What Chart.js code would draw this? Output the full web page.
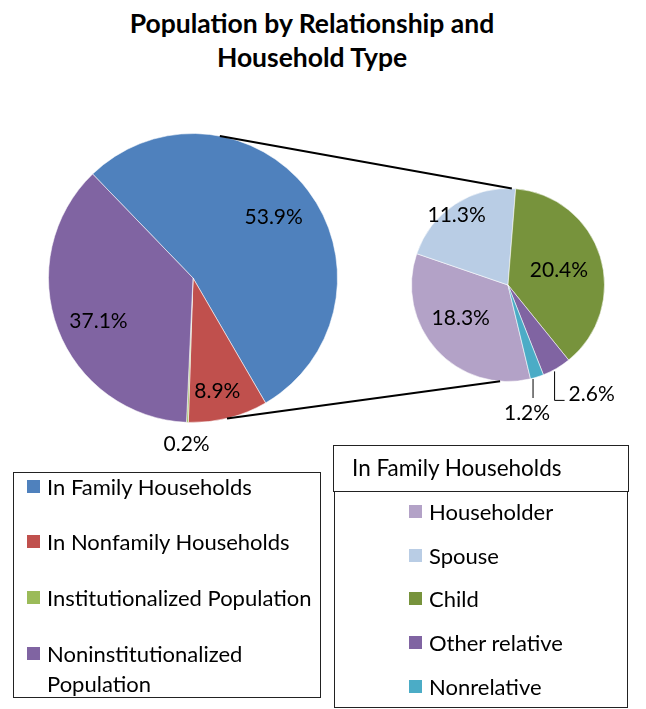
<!DOCTYPE html>
<html>
<head>
<meta charset="utf-8">
<script src="https://cdn.jsdelivr.net/npm/chart.js@4/dist/chart.umd.min.js"></script>
<style>
  body { margin: 0; background: #fff; font-family: Lato, "Open Sans", sans-serif; color: #000; }
  #wrap { position: relative; width: 646px; height: 709px; overflow: hidden; }
  #wrap canvas { position: absolute; left: 0; top: 0; }
  #title { position: absolute; left: 0; top: 6px; width: 624px; text-align: center;
           font-weight: bold; font-size: 26.5px; line-height: 34px; }
  .box { position: absolute; border: 1px solid #222; box-sizing: border-box; }
  .item { position: absolute; font-size: 22px; line-height: 28px; white-space: nowrap; }
  .item i { display: inline-block; width: 13px; height: 13px; margin-right: 7px; vertical-align: 2px; }
</style>
</head>
<body>
<div id="wrap">
  <div id="title">Population by Relationship and<br>Household Type</div>
  <canvas id="mainPie" width="646" height="709"></canvas>
  <canvas id="subPie" width="646" height="709"></canvas>
  <div class="box" id="legMain" style="left:13px;top:472px;width:308px;height:226px;"></div>
  <div class="box" style="left:333px;top:445px;width:296px;height:47px;border-width:1.5px;">
    <div style="position:absolute;left:18px;top:8px;font-size:22.5px;line-height:28px;">In Family Households</div>
  </div>
  <div class="box" id="legSub" style="left:334px;top:491px;width:294px;height:217px;"></div>
</div>
<script>
// main pie: total population
const mainLabels = ['In Family Households', 'In Nonfamily Households', 'Institutionalized Population', 'Noninstitutionalized Population'];
const mainValues = [53.9, 8.9, 0.2, 37.1];
const mainColors = ['#4F81BD', '#C0504D', '#9BBB59', '#8064A2'];

// second pie: breakdown of "In Family Households"
const subLabels = ['Householder', 'Spouse', 'Child', 'Other relative', 'Nonrelative'];
const subValues = [18.3, 11.3, 20.4, 2.6, 1.2];
const subColors = ['#B3A2C7', '#B9CDE5', '#77933C', '#8064A2', '#4BACC6'];

const FONT = '21px Lato, "Open Sans", sans-serif';

// percentage labels on slices (with leader lines for the small ones)
const sliceLabels = {
  id: 'sliceLabels',
  afterDatasetsDraw(chart, args, opts) {
    const ctx = chart.ctx;
    const meta = chart.getDatasetMeta(0);
    const vals = chart.data.datasets[0].data;
    ctx.save();
    ctx.font = FONT;
    ctx.fillStyle = '#000';
    ctx.strokeStyle = '#000';
    ctx.lineWidth = 1;
    meta.data.forEach((arc, i) => {
      const { x, y, startAngle, endAngle, outerRadius } = arc.getProps(['x', 'y', 'startAngle', 'endAngle', 'outerRadius'], true);
      const p = opts.place[i];
      const mid = (startAngle + endAngle) / 2 + (p.da || 0) * Math.PI / 180;
      const text = vals[i].toFixed(1) + '%';
      const ex = x + Math.cos(mid) * outerRadius;
      const ey = y + Math.sin(mid) * outerRadius;
      if (p.leader === 'elbow') {
        const lx = ex - 2, ly = ey + 32;
        ctx.beginPath();
        ctx.moveTo(lx, ey + 3); ctx.lineTo(lx, ly); ctx.lineTo(lx + 10, ly);
        ctx.stroke();
        ctx.textAlign = 'left'; ctx.textBaseline = 'middle';
        ctx.fillText(text, lx + 14, ly - 6);
      } else if (p.leader === 'vert') {
        const lx = ex - 4;
        ctx.beginPath();
        ctx.moveTo(lx, ey + 2); ctx.lineTo(lx, ey + 21);
        ctx.stroke();
        ctx.textAlign = 'center'; ctx.textBaseline = 'middle';
        ctx.fillText(text, lx - 6, ey + 36);
      } else {
        ctx.textAlign = 'center'; ctx.textBaseline = 'middle';
        ctx.fillText(text, x + Math.cos(mid) * outerRadius * p.r, y + Math.sin(mid) * outerRadius * p.r);
      }
    });
    ctx.restore();
  }
};

// the two lines joining the main pie with the breakdown pie
const connectors = {
  id: 'connectors',
  afterDraw(chart, args, opts) {
    const src = opts.from();
    if (!src) return;
    const a = src.getDatasetMeta(0).data[0];
    const b = chart.getDatasetMeta(0).data[0];
    const pt = (arc, deg) => {
      const r = deg * Math.PI / 180;
      return [arc.x + Math.sin(r) * arc.outerRadius, arc.y - Math.cos(r) * arc.outerRadius];
    };
    const ctx = chart.ctx;
    ctx.save();
    ctx.strokeStyle = '#000';
    ctx.lineWidth = 2;
    for (let k = 0; k < 2; k++) {
      const p1 = pt(a, opts.mainAngles[k]);
      const p2 = pt(b, opts.subAngles[k]);
      ctx.beginPath();
      ctx.moveTo(p1[0], p1[1]);
      ctx.lineTo(p2[0], p2[1]);
      ctx.stroke();
    }
    ctx.restore();
  }
};

const baseOpts = (pad) => ({
  responsive: false,
  animation: false,
  layout: { padding: pad },
  plugins: { legend: { display: false }, tooltip: { enabled: false } }
});

const mainOpts = baseOpts({ left: 48, right: 308, top: 133, bottom: 286 });
mainOpts.rotation = -44;
mainOpts.plugins.sliceLabels = { place: [{ r: 0.7 }, { r: 0.8, da: 2 }, { r: 1.15 }, { r: 0.72, da: -4 }] };

const mainChart = new Chart(document.getElementById('mainPie'), {
  type: 'pie',
  data: {
    labels: mainLabels,
    datasets: [{ data: mainValues, backgroundColor: mainColors, borderColor: 'rgba(255,255,255,0.55)', borderWidth: 1 }]
  },
  options: mainOpts,
  plugins: [sliceLabels]
});

const subOpts = baseOpts({ left: 411, right: 41, top: 188, bottom: 327 });
subOpts.rotation = 166.5;
subOpts.plugins.sliceLabels = { place: [{ r: 0.6, da: 7 }, { r: 0.9, da: -3 }, { r: 0.55, da: 1 }, { leader: 'elbow' }, { leader: 'vert' }] };
subOpts.plugins.connectors = { from: () => mainChart, mainAngles: [10.7, 166.4], subAngles: [2.3, 184.7] };

new Chart(document.getElementById('subPie'), {
  type: 'pie',
  data: {
    labels: subLabels,
    datasets: [{ data: subValues, backgroundColor: subColors, borderColor: 'rgba(255,255,255,0.55)', borderWidth: 1 }]
  },
  options: subOpts,
  plugins: [sliceLabels, connectors]
});

// legends
const legMain = document.getElementById('legMain');
const mainTops = [0, 55, 111, 166];
mainLabels.forEach((lab, i) => {
  const d = document.createElement('div');
  d.className = 'item';
  d.style.left = '13px';
  d.style.top = mainTops[i] + 'px';
  if (i === 3) {
    d.innerHTML = '<i style="background:' + mainColors[i] + '"></i>Noninstitutionalized<br><span style="margin-left:20px">Population</span>';
    d.style.lineHeight = '30px';
  } else {
    d.innerHTML = '<i style="background:' + mainColors[i] + '"></i>' + lab;
  }
  legMain.appendChild(d);
});

const legSub = document.getElementById('legSub');
subLabels.forEach((lab, i) => {
  const d = document.createElement('div');
  d.className = 'item';
  d.style.left = '74px';
  d.style.top = (6 + i * 43.7) + 'px';
  d.innerHTML = '<i style="background:' + subColors[i] + '"></i>' + lab;
  legSub.appendChild(d);
});
</script>
</body>
</html>
